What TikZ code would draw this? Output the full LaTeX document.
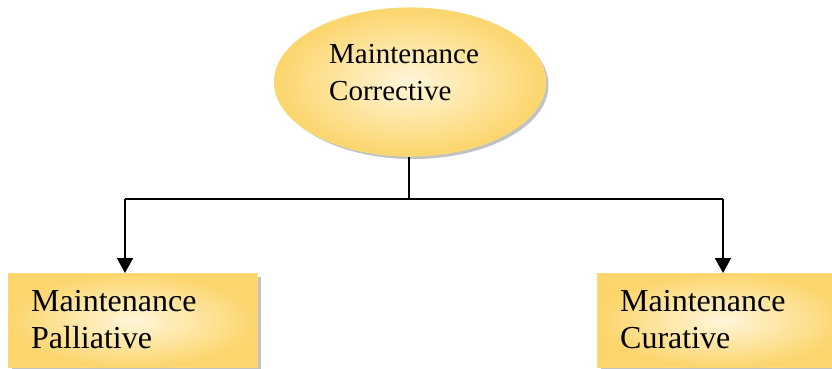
\documentclass[tikz,border=0pt]{standalone}
\usepackage{fontspec}
\setmainfont{Liberation Serif}
\usetikzlibrary{shapes.geometric,arrows.meta,shadows}
\definecolor{goldout}{HTML}{FCD56C}
\definecolor{goldin}{HTML}{FFF6DA}
\definecolor{goldedge}{HTML}{F9DA78}
\tikzset{
  goldfill/.style={inner color=goldin, outer color=goldout, draw=goldedge, line width=1.2pt,
    drop shadow={shadow xshift=3pt, shadow yshift=-3pt, fill=black!40, opacity=0.6}},
  boxnode/.style={goldfill, rectangle, anchor=north west, inner sep=0pt},
  ellnode/.style={goldfill, ellipse, inner sep=0pt, minimum width=271pt, minimum height=148pt},
  conn/.style={line width=1.8pt, draw=black},
  arr/.style={conn, -{Triangle[length=15pt,width=16pt]}},
  boxtext/.style={font=\fontsize{32}{37}\selectfont, align=left, anchor=north west, inner sep=0pt},
  elltext/.style={font=\fontsize{29}{37}\selectfont, align=left, anchor=north west, inner sep=0pt}
}
\begin{document}
\begin{tikzpicture}[x=1pt,y=-1pt]
\useasboundingbox (0,0) rectangle (832,369);
\clip (0,0) rectangle (832,369);
% ellipse
\node[ellnode] (top) at (410,82) {};
\node[elltext] (toptext) at (329,44) {Maintenance\\Corrective};
% boxes
\node[boxnode, minimum width=249pt, minimum height=94pt] (left) at (8,273) {};
\node[boxtext] (lefttext) at (31,290) {Maintenance\\Palliative};
\node[boxnode, minimum width=250pt, minimum height=94pt] (right) at (597,273) {};
\node[boxtext] (righttext) at (620,290) {Maintenance\\Curative};
% connectors
\coordinate (j) at (409,199);
\coordinate (jl) at (125,199);
\coordinate (jr) at (723,199);
\draw[conn] (top.south -| j) -- (j);
\draw[conn] (jl) -- (jr);
\draw[arr] (jl) -- (jl |- left.north);
\draw[arr] (jr) -- (jr |- right.north);
\end{tikzpicture}
\end{document}
